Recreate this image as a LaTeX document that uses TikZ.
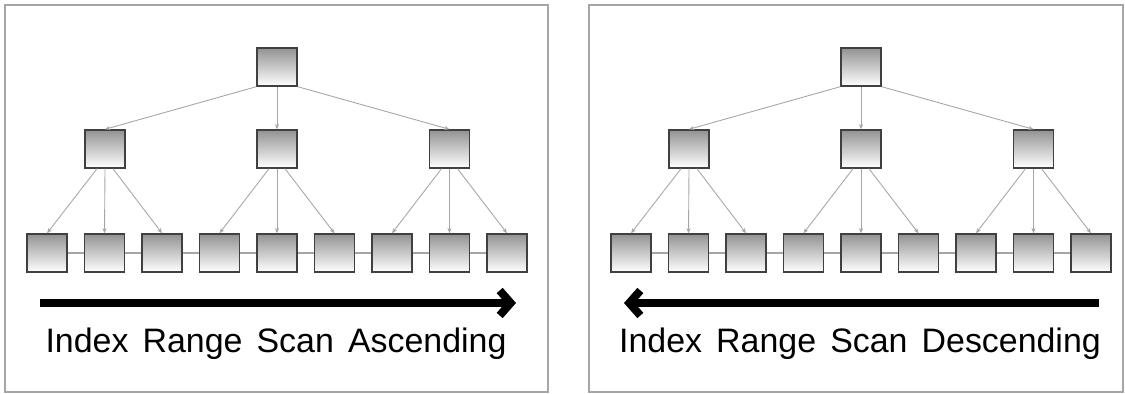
\documentclass[tikz,border=0pt]{standalone}
\usepackage{fontspec}
\setmainfont{Liberation Sans}[WordSpace=1.5]
\usetikzlibrary{arrows.meta}

\tikzset{
  page/.style={draw=gray!70, line width=1.1pt},
  blk/.style={draw=black!75, line width=0.8pt, top color=gray!85, bottom color=white,
    minimum width=0.8cm, minimum height=0.76cm, inner sep=0pt},
  link/.style={draw=gray!70, line width=0.5pt, -{Stealth[length=3pt, width=2.4pt]}},
  chain/.style={draw=gray!70, line width=0.6pt},
  scan/.style={line width=0.16cm, -{Straight Barb[length=0.22cm, width=0.5cm]}},
  caption/.style={font=\fontsize{19.3}{23}\selectfont, anchor=base},
}

\begin{document}
\begin{tikzpicture}[x=0.02cm, y=-0.02cm]
  \useasboundingbox (0,0) rectangle (1125,394);

  % one panel per scan direction
  \foreach \p/\dx/\w/\word/\from/\to in {a/0/543/Ascending/40/516, d/584/534/Descending/515/40} {
    \begin{scope}[xshift=\dx*0.02cm]
      \draw[page] (5,5) rectangle (5+\w,392);

      % tree blocks
      \node[blk] (\p-root) at (277,67) {};
      \foreach \j/\x in {1/105, 2/277, 3/449.5}
        \node[blk] (\p-mid\j) at (\x,149) {};
      \foreach \i in {1,...,9}
        \node[blk] (\p-leaf\i) at ({47+57.5*(\i-1)},253) {};

      % root -> branches
      \draw[link] (\p-root.south west) -- (\p-mid1.north);
      \draw[link] (\p-root.south) -- (\p-mid2.north);
      \draw[link] (\p-root.south east) -- (\p-mid3.north);

      % branches -> leaves
      \foreach \j/\l/\c/\r in {1/1/2/3, 2/4/5/6, 3/7/8/9} {
        \draw[link] ([xshift=-0.16cm]\p-mid\j.south) -- (\p-leaf\l.north);
        \draw[link] (\p-mid\j.south) -- (\p-leaf\c.north);
        \draw[link] ([xshift=0.16cm]\p-mid\j.south) -- (\p-leaf\r.north);
      }

      % leaf chain
      \foreach \i [evaluate=\i as \n using int(\i+1)] in {1,...,8}
        \draw[chain] (\p-leaf\i.east) -- (\p-leaf\n.west);

      % scan direction
      \coordinate (\p-start) at (\from,303);
      \coordinate (\p-end) at (\to,303);
      \draw[scan] (\p-start) -- (\p-end);

      \node[caption] (\p-label) at (276,353) {Index Range Scan \word};
    \end{scope}
  }
\end{tikzpicture}
\end{document}
